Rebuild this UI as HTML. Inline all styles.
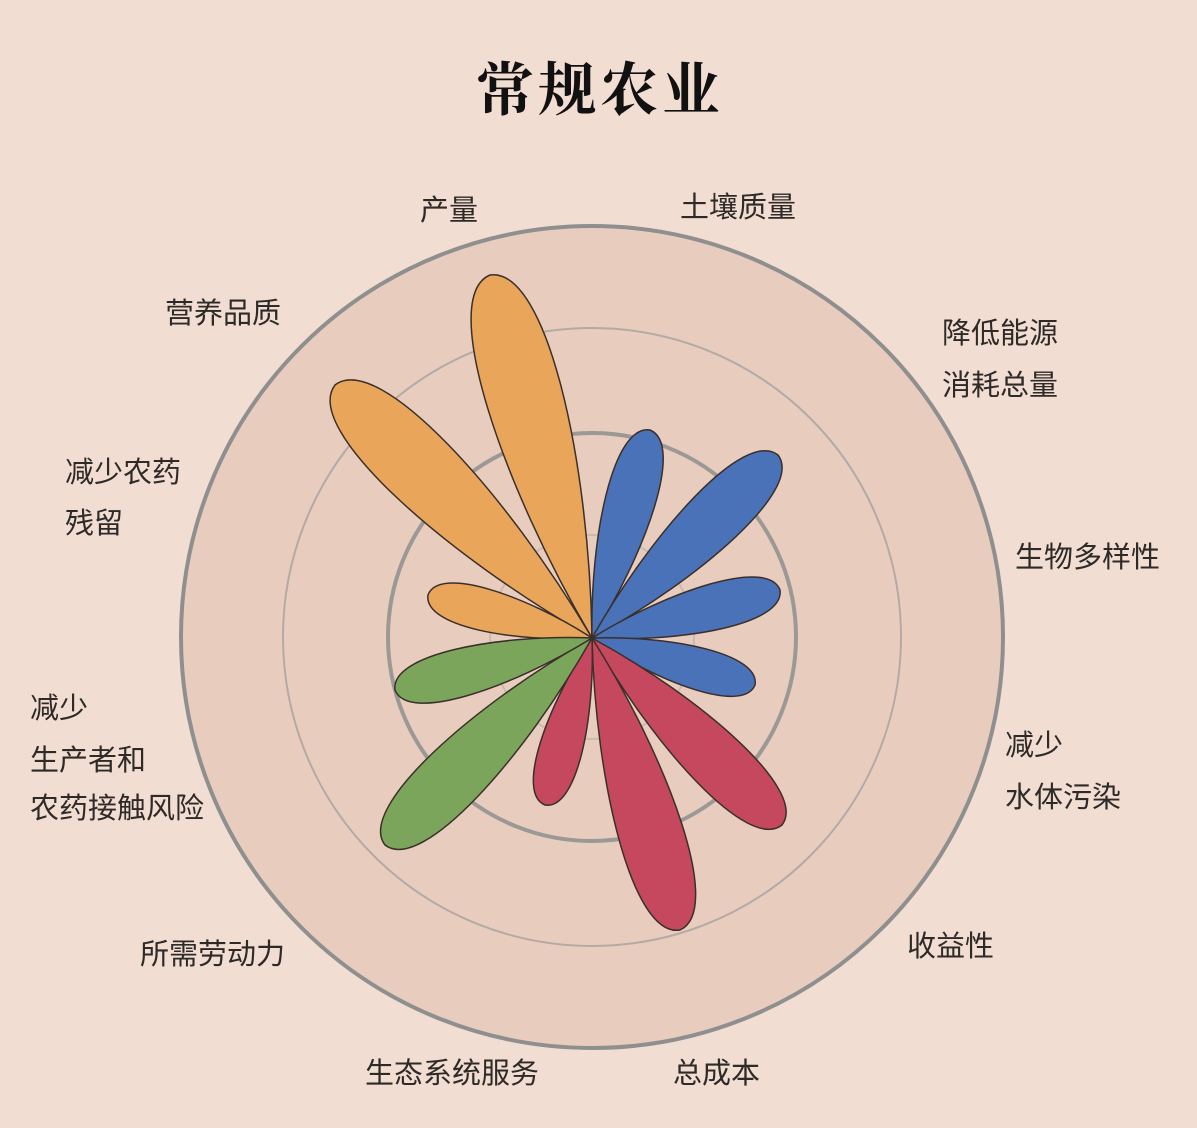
<!DOCTYPE html>
<html><head><meta charset="utf-8"><style>
html,body{margin:0;padding:0;background:#f1ddd1;}
svg{display:block}
text{font-family:"Liberation Sans","Noto Sans CJK SC",sans-serif;font-size:29px;fill:#2e2a28;}
</style></head><body>
<svg id="s" width="1197" height="1128" viewBox="0 0 1197 1128">
<rect width="1197" height="1128" fill="#f1ddd1"/>
<text x="600" y="110" text-anchor="middle" style="font-family:'Noto Serif CJK SC',serif;font-size:58px;font-weight:bold;fill:#111;letter-spacing:4px">常规农业</text>
<circle cx="592" cy="637" r="411" fill="#e8cdbe" stroke="#8f8f8f" stroke-width="4"/>
<circle cx="592" cy="637" r="309" fill="none" stroke="#b3aaa5" stroke-width="2"/>
<circle cx="592" cy="637" r="204" fill="none" stroke="#9c9896" stroke-width="4"/>
<circle cx="592" cy="637" r="102" fill="none" stroke="#c9bbb2" stroke-width="2"/>
<g id="petals"></g>
<text x="420" y="220">产量</text>
<text x="680" y="217">土壤质量</text>
<text x="942" y="343">降低能源</text>
<text x="942" y="395">消耗总量</text>
<text x="1015" y="567">生物多样性</text>
<text x="1005" y="755">减少</text>
<text x="1005" y="807">水体污染</text>
<text x="907" y="956">收益性</text>
<text x="673" y="1083">总成本</text>
<text x="365" y="1083">生态系统服务</text>
<text x="140" y="964">所需劳动力</text>
<text x="30" y="718">减少</text>
<text x="30" y="770">生产者和</text>
<text x="30" y="818">农药接触风险</text>
<text x="65" y="482">减少农药</text>
<text x="65" y="533">残留</text>
<text x="165" y="323">营养品质</text>
</svg>
<script>
var cx=592,cy=638;
var P=[
[490,275,'#e9a65a'],[335,385,'#e9a65a'],[428,595,'#e9a65a'],
[650,430,'#4a72b8'],[778,455,'#4a72b8'],[780,590,'#4a72b8'],[755,685,'#4a72b8'],
[782,825,'#c5485f'],[680,930,'#c5485f'],[545,805,'#c5485f'],
[385,845,'#7ba55b'],[395,690,'#7ba55b']];
var g=document.getElementById('petals'),h='';
P.forEach(function(p){
 var dx=p[0]-cx,dy=p[1]-cy,L=Math.sqrt(dx*dx+dy*dy),a=Math.atan2(dy,dx)*180/Math.PI;
 var W=0.13*L+11;
 var d='M0 0 C'+(0.45*L)+' '+(-W*0.75)+' '+(0.98*L)+' '+(-W*0.95)+' '+L+' 0 C'+(0.98*L)+' '+(W*0.95)+' '+(0.45*L)+' '+(W*0.75)+' 0 0Z';
 h+='<path d="'+d+'" transform="translate('+cx+' '+cy+') rotate('+a+')" fill="'+p[2]+'" stroke="#3a2f2a" stroke-width="1.5"/>';
});
g.innerHTML=h;
</script>
</body></html>
